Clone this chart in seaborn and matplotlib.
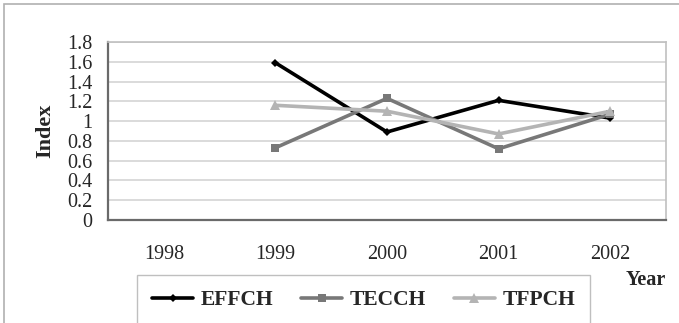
import matplotlib
matplotlib.use("Agg")
import matplotlib.pyplot as plt
import seaborn as sns
import numpy as np
from matplotlib.patches import Rectangle

years = [1998, 1999, 2000, 2001, 2002]
effch = [np.nan, 1.59, 0.89, 1.21, 1.03]
tecch = [np.nan, 0.73, 1.23, 0.72, 1.07]
tfpch = [np.nan, 1.16, 1.10, 0.87, 1.10]
yticks = [0, 0.2, 0.4, 0.6, 0.8, 1, 1.2, 1.4, 1.6, 1.8]
ytick_labels = ["0", "0.2", "0.4", "0.6", "0.8", "1", "1.2", "1.4", "1.6", "1.8"]

sns.set_style("white")
plt.rcParams['font.family'] = ['Liberation Serif', 'DejaVu Serif']

fig = plt.figure(figsize=(6.79, 3.23), dpi=100)
ax = fig.add_axes([108/679, 1-220/323, (666-108)/679, (220-42)/323])

# outer chart border (cut off at right/bottom like the original)
fig.patches.append(Rectangle((4/679, -0.1), 1.2, 1 - 4/323 + 0.1, transform=fig.transFigure,
                             fill=False, edgecolor='#b0b0b0', linewidth=1.2))

sns.lineplot(x=years, y=effch, ax=ax, color='black', linewidth=2.6, marker='D',
             markersize=4.5, markeredgewidth=0, label='EFFCH')
sns.lineplot(x=years, y=tecch, ax=ax, color='#787878', linewidth=2.6, marker='s',
             markersize=5.5, markeredgewidth=0, label='TECCH')
sns.lineplot(x=years, y=tfpch, ax=ax, color='#b4b4b4', linewidth=2.6, marker='^',
             markersize=6.5, markeredgewidth=0, label='TFPCH')

ax.set_xlim(1997.5, 2002.5)
ax.set_ylim(0, 1.8)
ax.set_yticks(yticks, ytick_labels)
ax.yaxis.grid(True, color='#d4d4d4', linewidth=1.2)
ax.set_axisbelow(True)

bounds = [y - 0.5 for y in years] + [years[-1] + 0.5]
ax.set_xticks(bounds, [''] * len(bounds))
ax.set_xticks(years, [str(y) for y in years], minor=True)
ax.tick_params(axis='x', which='major', direction='out', length=4, color='#808080', width=1)
ax.tick_params(axis='x', which='minor', length=0, pad=18, labelsize=14.5)
ax.tick_params(axis='y', direction='out', length=3, color='#808080', width=1, pad=8, labelsize=14.5)

for s in ['left', 'bottom']:
    ax.spines[s].set_color('#6a6a6a')
    ax.spines[s].set_linewidth(1.6)
for s in ['top', 'right']:
    ax.spines[s].set_color('#c0c0c0')
    ax.spines[s].set_linewidth(1.2)

ax.set_ylabel('Index', fontsize=16, fontweight='bold', labelpad=9)
ax.set_xlabel('')
fig.text(646/679, 1-280/323, 'Year', fontsize=14.5, fontweight='bold', ha='center', va='center')

ax.get_legend().remove()
handles, labels = ax.get_legend_handles_labels()
leg = fig.legend(handles, labels, loc='upper left', bbox_to_anchor=(137/679, 1-275/323),
                 ncol=3, frameon=True, fancybox=False, edgecolor='#b0b0b0',
                 prop={'size': 15.5, 'weight': 'bold'}, handlelength=1.9, handletextpad=0.35,
                 columnspacing=1.3, borderpad=0.7, borderaxespad=0)
leg.get_frame().set_linewidth(1.0)

fig.savefig('out.png', dpi=100)
